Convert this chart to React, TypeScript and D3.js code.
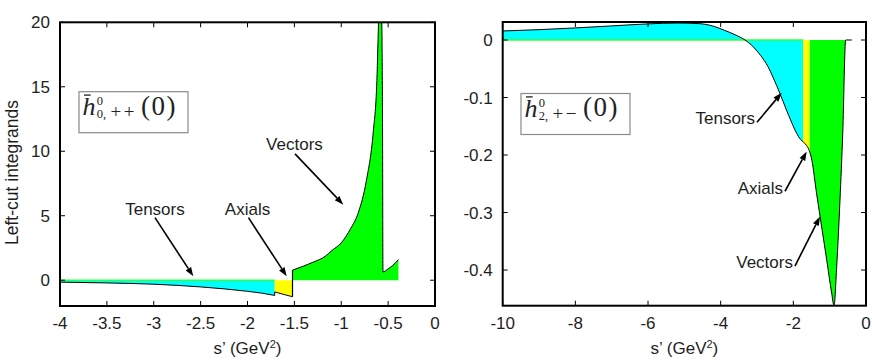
import React from 'react';
import * as d3 from 'd3';

type P = [number, number];

// ---------- Left panel data: h̄^0_{0,++}(0) ----------
const leftTensors: P[] = [[-4, -0.15], [-3.5, -0.21], [-3, -0.31], [-2.5, -0.52], [-2, -0.86], [-1.85, -1.0], [-1.71, -1.18]];
const leftAxials: P[] = [[-1.71, -0.91], [-1.62, -1.09], [-1.52, -1.28]];
const leftVectors: P[] = [[-1.52, 0.78], [-1.4, 1.1], [-1.3, 1.4], [-1.17, 1.86], [-1.1, 2.3], [-1.0, 2.9], [-0.9, 4.0], [-0.82, 5.2], [-0.73, 7.8], [-0.66, 11.4], [-0.62, 15.5], [-0.6, 20.5], [-0.585, 23], [-0.57, 21], [-0.56, 12.8], [-0.555, 0.64], [-0.5, 0.88], [-0.45, 1.15], [-0.39, 1.6]];
const leftXTicks = [-4, -3.5, -3, -2.5, -2, -1.5, -1, -0.5, 0];
const leftYTicks = [0, 5, 10, 15, 20];
const leftXDomain: P = [-4, 0];
const leftYDomain: P = [-2, 20];

// ---------- Right panel data: h̄^0_{2,+-}(0) ----------
const rightCurve: P[] = [[-10, 0.0157], [-9, 0.018], [-8, 0.021], [-7, 0.0245], [-6, 0.028], [-5.2, 0.0295], [-4.6, 0.0285], [-4.2, 0.024], [-3.9, 0.017], [-3.6, 0.009], [-3.33, 0], [-3.1, -0.012], [-2.9, -0.027], [-2.7, -0.046], [-2.55, -0.066], [-2.37, -0.093], [-2.2, -0.12], [-2.05, -0.143], [-1.91, -0.162], [-1.8, -0.173], [-1.73, -0.177], [-1.64, -0.183], [-1.59, -0.188], [-1.49, -0.209], [-1.36, -0.267], [-1.22, -0.325], [-1.08, -0.383], [-0.945, -0.44], [-0.88, -0.462], [-0.807, -0.394], [-0.716, -0.278], [-0.64, -0.162], [-0.56, 0], [-0.39, 0]];
const rightBands: { name: string; from: number; to: number }[] = [
  { name: 'Tensors', from: -10, to: -1.73 },
  { name: 'Axials', from: -1.73, to: -1.55 },
  { name: 'Vectors', from: -1.55, to: -0.56 },
];
const rightXTicks = [-10, -8, -6, -4, -2, 0];
const rightYTicks = [0, -0.1, -0.2, -0.3, -0.4];
const rightXDomain: P = [-10, 0];
const rightYDomain: P = [-0.462, 0.0313];

// annotations (data coordinates)
type Ann = { text: string; tx: number; ty: number; from: P; to: P };
const leftAnnotations: Ann[] = [
  { text: 'Tensors', tx: -2.987, ty: 5.08, from: [-2.987, 4.85], to: [-2.578, 0.31] },
  { text: 'Axials', tx: -2.0, ty: 5.08, from: [-1.99, 4.85], to: [-1.582, 0.31] },
  { text: 'Vectors', tx: -1.499, ty: 10.12, from: [-1.493, 9.8], to: [-0.978, 5.86] },
];
const rightAnnotations: Ann[] = [
  { text: 'Tensors', tx: -3.055, ty: -0.146, from: [-3.0, -0.143], to: [-2.32, -0.0917] },
  { text: 'Axials', tx: -2.285, ty: -0.267, from: [-2.23, -0.263], to: [-1.632, -0.194] },
  { text: 'Vectors', tx: -2.01, ty: -0.397, from: [-1.955, -0.393], to: [-1.266, -0.307] },
];

const COLORS: Record<string, string> = { Tensors: '#00ffff', Axials: '#ffff00', Vectors: '#00ff00' };
const FONT = '"Liberation Sans", Arial, Helvetica, sans-serif';
const SERIF = '"Liberation Serif", "DejaVu Serif", serif';
const TXT = '#1e1e1e';

function Arrow({ x1, y1, x2, y2 }: { x1: number; y1: number; x2: number; y2: number }) {
  const ang = Math.atan2(y2 - y1, x2 - x1);
  const L = 9, Wd = 3.2;
  const bx = x2 - L * Math.cos(ang), by = y2 - L * Math.sin(ang);
  const px = -Math.sin(ang) * Wd, py = Math.cos(ang) * Wd;
  return (
    <g>
      <line x1={x1} y1={y1} x2={bx} y2={by} stroke="#000" strokeWidth={1.6} />
      <polygon points={`${x2},${y2} ${bx + px},${by + py} ${bx - px},${by - py}`} fill="#000" />
    </g>
  );
}

function Frame({ x0, x1, y0, y1, xScale, yScale, xTicks, yTicks }: any) {
  const tl = 5;
  return (
    <g>
      {xTicks.map((t: number) => (
        <g key={'x' + t}>
          <line x1={xScale(t)} x2={xScale(t)} y1={y1} y2={y1 - tl} stroke="#000" strokeWidth={1} />
          <line x1={xScale(t)} x2={xScale(t)} y1={y0} y2={y0 + tl} stroke="#000" strokeWidth={1} />
          <text x={xScale(t)} y={329} textAnchor="middle" fontFamily={FONT} fontSize={17} fill={TXT}>{String(t)}</text>
        </g>
      ))}
      {yTicks.map((t: number) => (
        <g key={'y' + t}>
          <line x1={x0} x2={x0 + tl} y1={yScale(t)} y2={yScale(t)} stroke="#000" strokeWidth={1} />
          <line x1={x1} x2={x1 - tl} y1={yScale(t)} y2={yScale(t)} stroke="#000" strokeWidth={1} />
          <text x={x0 - 10} y={yScale(t)} dy="0.36em" textAnchor="end" fontFamily={FONT} fontSize={17} fill={TXT}>{String(t)}</text>
        </g>
      ))}
      <rect x={x0} y={y0} width={x1 - x0} height={y1 - y0} fill="none" stroke="#000" strokeWidth={2} />
      <text x={(x0 + x1) / 2} y={354} textAnchor="middle" fontFamily={FONT} fontSize={17} fill={TXT}>
        s’ (GeV<tspan fontSize={11} dy={-6}>2</tspan><tspan dy={6}>)</tspan>
      </text>
    </g>
  );
}

function Legend({ x, y, idx, signs }: { x: number; y: number; idx: string; signs: string }) {
  return (
    <g transform={`translate(${x},${y})`}>
      <rect x={0} y={0} width={109} height={41} fill="#fff" stroke="#8a8a8a" strokeWidth={1.2} />
      <line x1={5} x2={11.7} y1={3.4} y2={3.4} stroke="#222" strokeWidth={1.3} />
      <text fontFamily={SERIF} fill="#222">
        <tspan x={3.5} y={23.3} fontStyle="italic" fontSize={26}>h</tspan>
        <tspan x={17.8} y={13} fontSize={12.5}>0</tspan>
        <tspan x={17.8} y={26.5} fontSize={12.5}>{idx},</tspan>
        <tspan x={31.5} y={26.5} fontSize={19} letterSpacing={2.5}>{signs}</tspan>
        <tspan x={62} y={22.8} fontSize={27} letterSpacing={1.5}>(0)</tspan>
      </text>
    </g>
  );
}

export default function App() {
  // left panel geometry
  const L = { x0: 60, x1: 435, y0: 22.3, y1: 306 };
  const lx = d3.scaleLinear().domain(leftXDomain).range([L.x0, L.x1]);
  const ly = d3.scaleLinear().domain(leftYDomain).range([L.y1, L.y0]);
  const lArea = d3.area<P>().x(d => lx(d[0])).y0(ly(0)).y1(d => ly(d[1])).curve(d3.curveMonotoneX);
  const lLine = d3.line<P>().x(d => lx(d[0])).y(d => ly(d[1])).curve(d3.curveMonotoneX);
  const lSegs: { name: string; pts: P[] }[] = [
    { name: 'Tensors', pts: leftTensors },
    { name: 'Axials', pts: leftAxials },
    { name: 'Vectors', pts: leftVectors },
  ];

  // right panel geometry
  const R = { x0: 502.7, x1: 866, y0: 22, y1: 305.7 };
  const rx = d3.scaleLinear().domain(rightXDomain).range([R.x0, R.x1]);
  const ry = d3.scaleLinear().domain(rightYDomain).range([R.y1, R.y0]);
  const rArea = d3.area<P>().x(d => rx(d[0])).y0(ry(0)).y1(d => ry(d[1])).curve(d3.curveMonotoneX);
  const rLine = d3.line<P>().x(d => rx(d[0])).y(d => ry(d[1])).curve(d3.curveMonotoneX);

  const straight = d3.line<P>().x(d => lx(d[0])).y(d => ly(d[1]));

  return (
    <svg width={872} height={364} style={{ position: 'absolute', left: 0, top: 0, background: '#fff' }}>
      <defs>
        <clipPath id="clipL"><rect x={L.x0} y={L.y0} width={L.x1 - L.x0} height={L.y1 - L.y0} /></clipPath>
        <clipPath id="clipR"><rect x={R.x0} y={R.y0} width={R.x1 - R.x0} height={R.y1 - R.y0} /></clipPath>
        {rightBands.map(b => (
          <clipPath key={b.name} id={'band' + b.name}>
            <rect x={rx(b.from)} y={R.y0} width={rx(b.to) - rx(b.from)} height={R.y1 - R.y0} />
          </clipPath>
        ))}
      </defs>

      {/* LEFT PANEL */}
      <g clipPath="url(#clipL)">
        {lSegs.map(s => <path key={s.name} d={lArea(s.pts) || ''} fill={COLORS[s.name]} stroke="none" />)}
        <line x1={lx(leftTensors[0][0])} x2={lx(leftTensors[leftTensors.length - 1][0])} y1={ly(0)} y2={ly(0)} stroke="#33ff33" strokeWidth={1.5} />
        {lSegs.map(s => <path key={'l' + s.name} d={lLine(s.pts) || ''} fill="none" stroke="#000" strokeWidth={1} />)}
        <path d={straight([leftTensors[leftTensors.length - 1], leftAxials[0]]) || ''} stroke="#000" strokeWidth={1} />
        <path d={straight([leftAxials[leftAxials.length - 1], leftVectors[0]]) || ''} stroke="#000" strokeWidth={1.2} />
      </g>
      <Frame x0={L.x0} x1={L.x1} y0={L.y0} y1={L.y1} xScale={lx} yScale={ly} xTicks={leftXTicks} yTicks={leftYTicks} />
      <text transform="translate(18,172.5) rotate(-90)" textAnchor="middle" fontFamily={FONT} fontSize={17.5} fill={TXT}>Left-cut integrands</text>
      <Legend x={79} y={91.7} idx="0" signs="++" />
      {leftAnnotations.map(a => (
        <g key={'la' + a.text}>
          <text x={lx(a.tx)} y={ly(a.ty)} textAnchor="middle" fontFamily={FONT} fontSize={17} fill={TXT}>{a.text}</text>
          <Arrow x1={lx(a.from[0])} y1={ly(a.from[1])} x2={lx(a.to[0])} y2={ly(a.to[1])} />
        </g>
      ))}

      {/* RIGHT PANEL */}
      <g clipPath="url(#clipR)">
        {rightBands.map(b => (
          <path key={b.name} d={rArea(rightCurve) || ''} fill={COLORS[b.name]} clipPath={`url(#band${b.name})`} />
        ))}
        <line x1={rx(rightBands[0].from)} x2={rx(rightBands[0].to)} y1={ry(0)} y2={ry(0)} stroke="#33ff33" strokeWidth={1.5} />
        <path d={rLine(rightCurve) || ''} fill="none" stroke="#000" strokeWidth={1} />
      </g>
      <Frame x0={R.x0} x1={R.x1} y0={R.y0} y1={R.y1} xScale={rx} yScale={ry} xTicks={rightXTicks} yTicks={rightYTicks} />
      <Legend x={521} y={93.5} idx="2" signs={'+\u2212'} />
      {rightAnnotations.map(a => (
        <g key={'ra' + a.text}>
          <text x={rx(a.tx)} y={ry(a.ty)} textAnchor="end" fontFamily={FONT} fontSize={17} fill={TXT}>{a.text}</text>
          <Arrow x1={rx(a.from[0])} y1={ry(a.from[1])} x2={rx(a.to[0])} y2={ry(a.to[1])} />
        </g>
      ))}
    </svg>
  );
}
